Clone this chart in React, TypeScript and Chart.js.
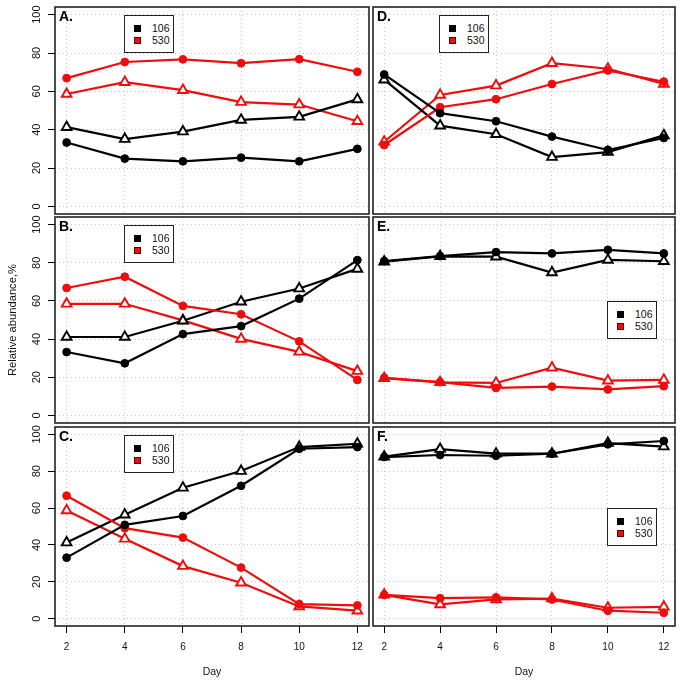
import React, { useEffect, useRef } from 'react';
import { Chart, registerables } from 'chart.js';

Chart.register(...registerables);

// ---------- data ----------
const days = [2, 4, 6, 8, 10, 12];
const xTicks = [2, 4, 6, 8, 10, 12];
const yTicks = [0, 20, 40, 60, 80, 100];
const seriesNames = ['106', '530'];
const xTitle = 'Day';
const yTitle = 'Relative abundance,%';

// Panel A
const a106Circle = [33.3, 24.9, 23.5, 25.4, 23.5, 30.0];
const a106Tri = [41.3, 35.1, 39.0, 45.1, 46.7, 55.8];
const a530Circle = [66.9, 75.3, 76.7, 74.7, 76.8, 70.2];
const a530Tri = [58.6, 64.8, 60.6, 54.4, 53.1, 44.4];
// Panel B
const b106Circle = [33.2, 27.3, 42.6, 46.8, 61.2, 81.4];
const b106Tri = [41.1, 41.1, 49.6, 59.6, 66.5, 76.8];
const b530Circle = [66.8, 72.7, 57.4, 53.0, 38.8, 18.6];
const b530Tri = [58.5, 58.5, 49.8, 40.1, 33.3, 23.2];
// Panel C
const c106Circle = [33.1, 50.9, 55.7, 72.1, 92.2, 93.1];
const c106Tri = [41.3, 56.4, 71.0, 80.1, 93.1, 94.9];
const c530Circle = [66.7, 49.1, 44.0, 27.7, 7.9, 7.2];
const c530Tri = [58.7, 43.3, 28.5, 19.5, 6.6, 4.3];
// Panel D
const d106Circle = [68.8, 48.6, 44.4, 36.4, 29.4, 35.7];
const d106Tri = [66.1, 42.1, 37.6, 25.7, 28.3, 37.0];
const d530Circle = [32.0, 51.7, 55.9, 63.8, 70.9, 65.0];
const d530Tri = [33.7, 58.1, 63.0, 74.7, 71.8, 63.8];
// Panel E
const e106Circle = [80.9, 83.5, 85.6, 84.9, 86.8, 84.9];
const e106Tri = [80.6, 83.4, 83.2, 74.9, 81.5, 80.8];
const e530Circle = [19.7, 17.4, 14.4, 15.1, 13.6, 15.3];
const e530Tri = [19.5, 17.3, 17.0, 25.0, 18.2, 18.6];
// Panel F
const f106Circle = [87.7, 88.8, 88.4, 89.5, 94.6, 96.4];
const f106Tri = [87.9, 92.0, 89.5, 89.5, 95.3, 93.4];
const f530Circle = [12.9, 11.1, 11.5, 10.4, 4.3, 3.2];
const f530Tri = [12.9, 7.7, 10.4, 10.9, 5.9, 6.4];

// ---------- layout / style ----------
const COLS = [
  { left: 55, right: 369 },
  { left: 373, right: 675 },
];
const ROWS = [
  { top: 7, bottom: 214 },
  { top: 217, bottom: 423 },
  { top: 427, bottom: 626 },
];
const BLACK = '#000000';
const RED = '#f00c0c';
const GRID = '#c4c4c4';
const FONT = '"Liberation Sans", Arial, Helvetica, sans-serif';

type PanelDef = {
  label: string;
  row: number;
  col: number;
  c106: number[];
  t106: number[];
  c530: number[];
  t530: number[];
  legend: { x: number; y: number };
};

const panels: PanelDef[] = [
  { label: 'A.', row: 0, col: 0, c106: a106Circle, t106: a106Tri, c530: a530Circle, t530: a530Tri, legend: { x: 69, y: 8 } },
  { label: 'B.', row: 1, col: 0, c106: b106Circle, t106: b106Tri, c530: b530Circle, t530: b530Tri, legend: { x: 69, y: 8 } },
  { label: 'C.', row: 2, col: 0, c106: c106Circle, t106: c106Tri, c530: c530Circle, t530: c530Tri, legend: { x: 69, y: 8 } },
  { label: 'D.', row: 0, col: 1, c106: d106Circle, t106: d106Tri, c530: d530Circle, t530: d530Tri, legend: { x: 66, y: 8 } },
  { label: 'E.', row: 1, col: 1, c106: e106Circle, t106: e106Tri, c530: e530Circle, t530: e530Tri, legend: { x: 234, y: 84 } },
  { label: 'F.', row: 2, col: 1, c106: f106Circle, t106: f106Tri, c530: f530Circle, t530: f530Tri, legend: { x: 234, y: 81 } },
];

const decorPlugin = {
  id: 'panelDecor',
  afterDatasetsDraw(chart: any, _args: any, opts: any) {
    const { ctx, chartArea } = chart;
    const { left, top, right, bottom } = chartArea;
    ctx.save();
    ctx.strokeStyle = '#222';
    ctx.lineWidth = 1.6;
    ctx.strokeRect(left, top, right - left, bottom - top);
    ctx.fillStyle = '#000';
    ctx.font = `bold 14px ${FONT}`;
    ctx.textAlign = 'left';
    ctx.textBaseline = 'alphabetic';
    ctx.fillText(opts.label, left + 4, top + 14);
    ctx.restore();
  },
};

function zeroPad(scale: any) {
  scale.paddingTop = 0;
  scale.paddingBottom = 0;
  scale.paddingLeft = 0;
  scale.paddingRight = 0;
}

function makeDataset(label: string, values: number[], color: string, tri: boolean) {
  return {
    label,
    data: days.map((d, i) => ({ x: d, y: values[i] })),
    borderColor: color,
    backgroundColor: color,
    borderWidth: 2.2,
    pointStyle: tri ? 'triangle' : 'circle',
    pointRadius: tri ? 5.6 : 3.9,
    pointBorderWidth: tri ? 1.9 : 1,
    pointBackgroundColor: tri ? '#ffffff' : color,
    pointBorderColor: color,
    tension: 0,
    clip: false as any,
  };
}

function Panel({ p }: { p: PanelDef }) {
  const ref = useRef<HTMLCanvasElement | null>(null);
  const box = { left: COLS[p.col].left, right: COLS[p.col].right, top: ROWS[p.row].top, bottom: ROWS[p.row].bottom };
  const leftCol = p.col === 0;
  const bottomRow = p.row === 2;
  const x0 = leftCol ? 0 : box.left - 2;
  const x1 = box.right + 2;
  const y0 = box.top - 6;
  const y1 = bottomRow ? 684 : box.bottom + 2;
  const w = x1 - x0;
  const h = y1 - y0;
  const yAxisW = leftCol ? box.left - x0 : 0;
  const xAxisH = bottomRow ? 684 - box.bottom : 0;

  useEffect(() => {
    if (!ref.current) return;
    const chart = new Chart(ref.current, {
      type: 'line',
      data: {
        datasets: [
          makeDataset(seriesNames[0], p.c106, BLACK, false),
          makeDataset(seriesNames[1], p.c530, RED, false),
          makeDataset(seriesNames[0], p.t106, BLACK, true),
          makeDataset(seriesNames[1], p.t530, RED, true),
        ] as any,
      },
      options: {
        responsive: false,
        animation: false,
        events: [],
        devicePixelRatio: 1,
        layout: {
          autoPadding: false,
          padding: { left: leftCol ? 0 : 2, right: 2, top: 6, bottom: bottomRow ? 0 : 2 },
        },
        plugins: {
          legend: { display: false },
          tooltip: { enabled: false },
          title: { display: false },
          panelDecor: { label: p.label },
        } as any,
        scales: {
          x: {
            type: 'linear',
            position: 'bottom',
            min: 1.6,
            max: 12.4,
            afterBuildTicks: (scale: any) => {
              scale.ticks = xTicks.map((v) => ({ value: v }));
            },
            afterFit: (scale: any) => {
              scale.height = xAxisH;
              zeroPad(scale);
            },
            border: { display: false, dash: [1, 3] },
            grid: {
              color: GRID,
              lineWidth: 1,
              drawTicks: bottomRow,
              tickLength: 7,
              tickColor: '#000',
              tickWidth: 1,
            },
            ticks: {
              display: bottomRow,
              color: '#111',
              padding: 8,
              maxRotation: 0,
              minRotation: 0,
              autoSkip: false,
              font: { family: FONT, size: 10 },
            },
            title: {
              display: bottomRow,
              text: xTitle,
              color: '#111',
              font: { family: FONT, size: 10.5 },
              padding: { top: 0, bottom: 6 },
            },
          },
          y: {
            type: 'linear',
            position: 'left',
            min: -4,
            max: 104,
            afterBuildTicks: (scale: any) => {
              scale.ticks = yTicks.map((v) => ({ value: v }));
            },
            afterFit: (scale: any) => {
              scale.width = yAxisW;
              zeroPad(scale);
            },
            border: { display: false, dash: [1, 3] },
            grid: {
              color: GRID,
              lineWidth: 1,
              drawTicks: leftCol,
              tickLength: 7,
              tickColor: '#000',
              tickWidth: 1,
            },
            ticks: {
              display: leftCol,
              color: '#111',
              padding: 2,
              minRotation: 90,
              maxRotation: 90,
              crossAlign: 'center',
              autoSkip: false,
              font: { family: FONT, size: 11 },
            },
            title: {
              display: leftCol && p.row === 1,
              text: yTitle,
              color: '#111',
              font: { family: FONT, size: 11.2 },
              padding: { top: 6, bottom: 0 },
            },
          },
        } as any,
      },
      plugins: [decorPlugin as any],
    });
    return () => chart.destroy();
  }, []);

  return (
    <canvas
      ref={ref}
      width={w}
      height={h}
      style={{ position: 'absolute', left: x0, top: y0, width: w, height: h }}
    />
  );
}

function Legend({ p }: { p: PanelDef }) {
  const left = COLS[p.col].left + p.legend.x;
  const top = ROWS[p.row].top + p.legend.y;
  const colors = [BLACK, RED];
  return (
    <div
      style={{
        position: 'absolute',
        left,
        top,
        width: 50,
        height: 38,
        boxSizing: 'border-box',
        border: '1.3px solid #222',
        background: '#fff',
        fontFamily: FONT,
        fontSize: 10.5,
        color: '#111',
      }}
    >
      {seriesNames.map((name, i) => (
        <div key={name}>
          <div
            style={{
              position: 'absolute',
              left: 9,
              top: 9 + i * 12,
              width: 7,
              height: 7,
              boxSizing: 'border-box',
              background: colors[i],
              border: `1px solid ${i === 0 ? '#000' : '#500'}`,
            }}
          />
          <div
            style={{
              position: 'absolute',
              left: 27,
              top: 6 + i * 12,
              lineHeight: '13px',
              whiteSpace: 'nowrap',
            }}
          >
            {name}
          </div>
        </div>
      ))}
    </div>
  );
}

export default function App() {
  return (
    <div
      style={{
        position: 'absolute',
        left: 0,
        top: 0,
        width: 683,
        height: 684,
        background: '#fff',
        overflow: 'hidden',
      }}
    >
      {panels.map((p) => (
        <Panel key={p.label} p={p} />
      ))}
      {panels.map((p) => (
        <Legend key={'lg' + p.label} p={p} />
      ))}
    </div>
  );
}
